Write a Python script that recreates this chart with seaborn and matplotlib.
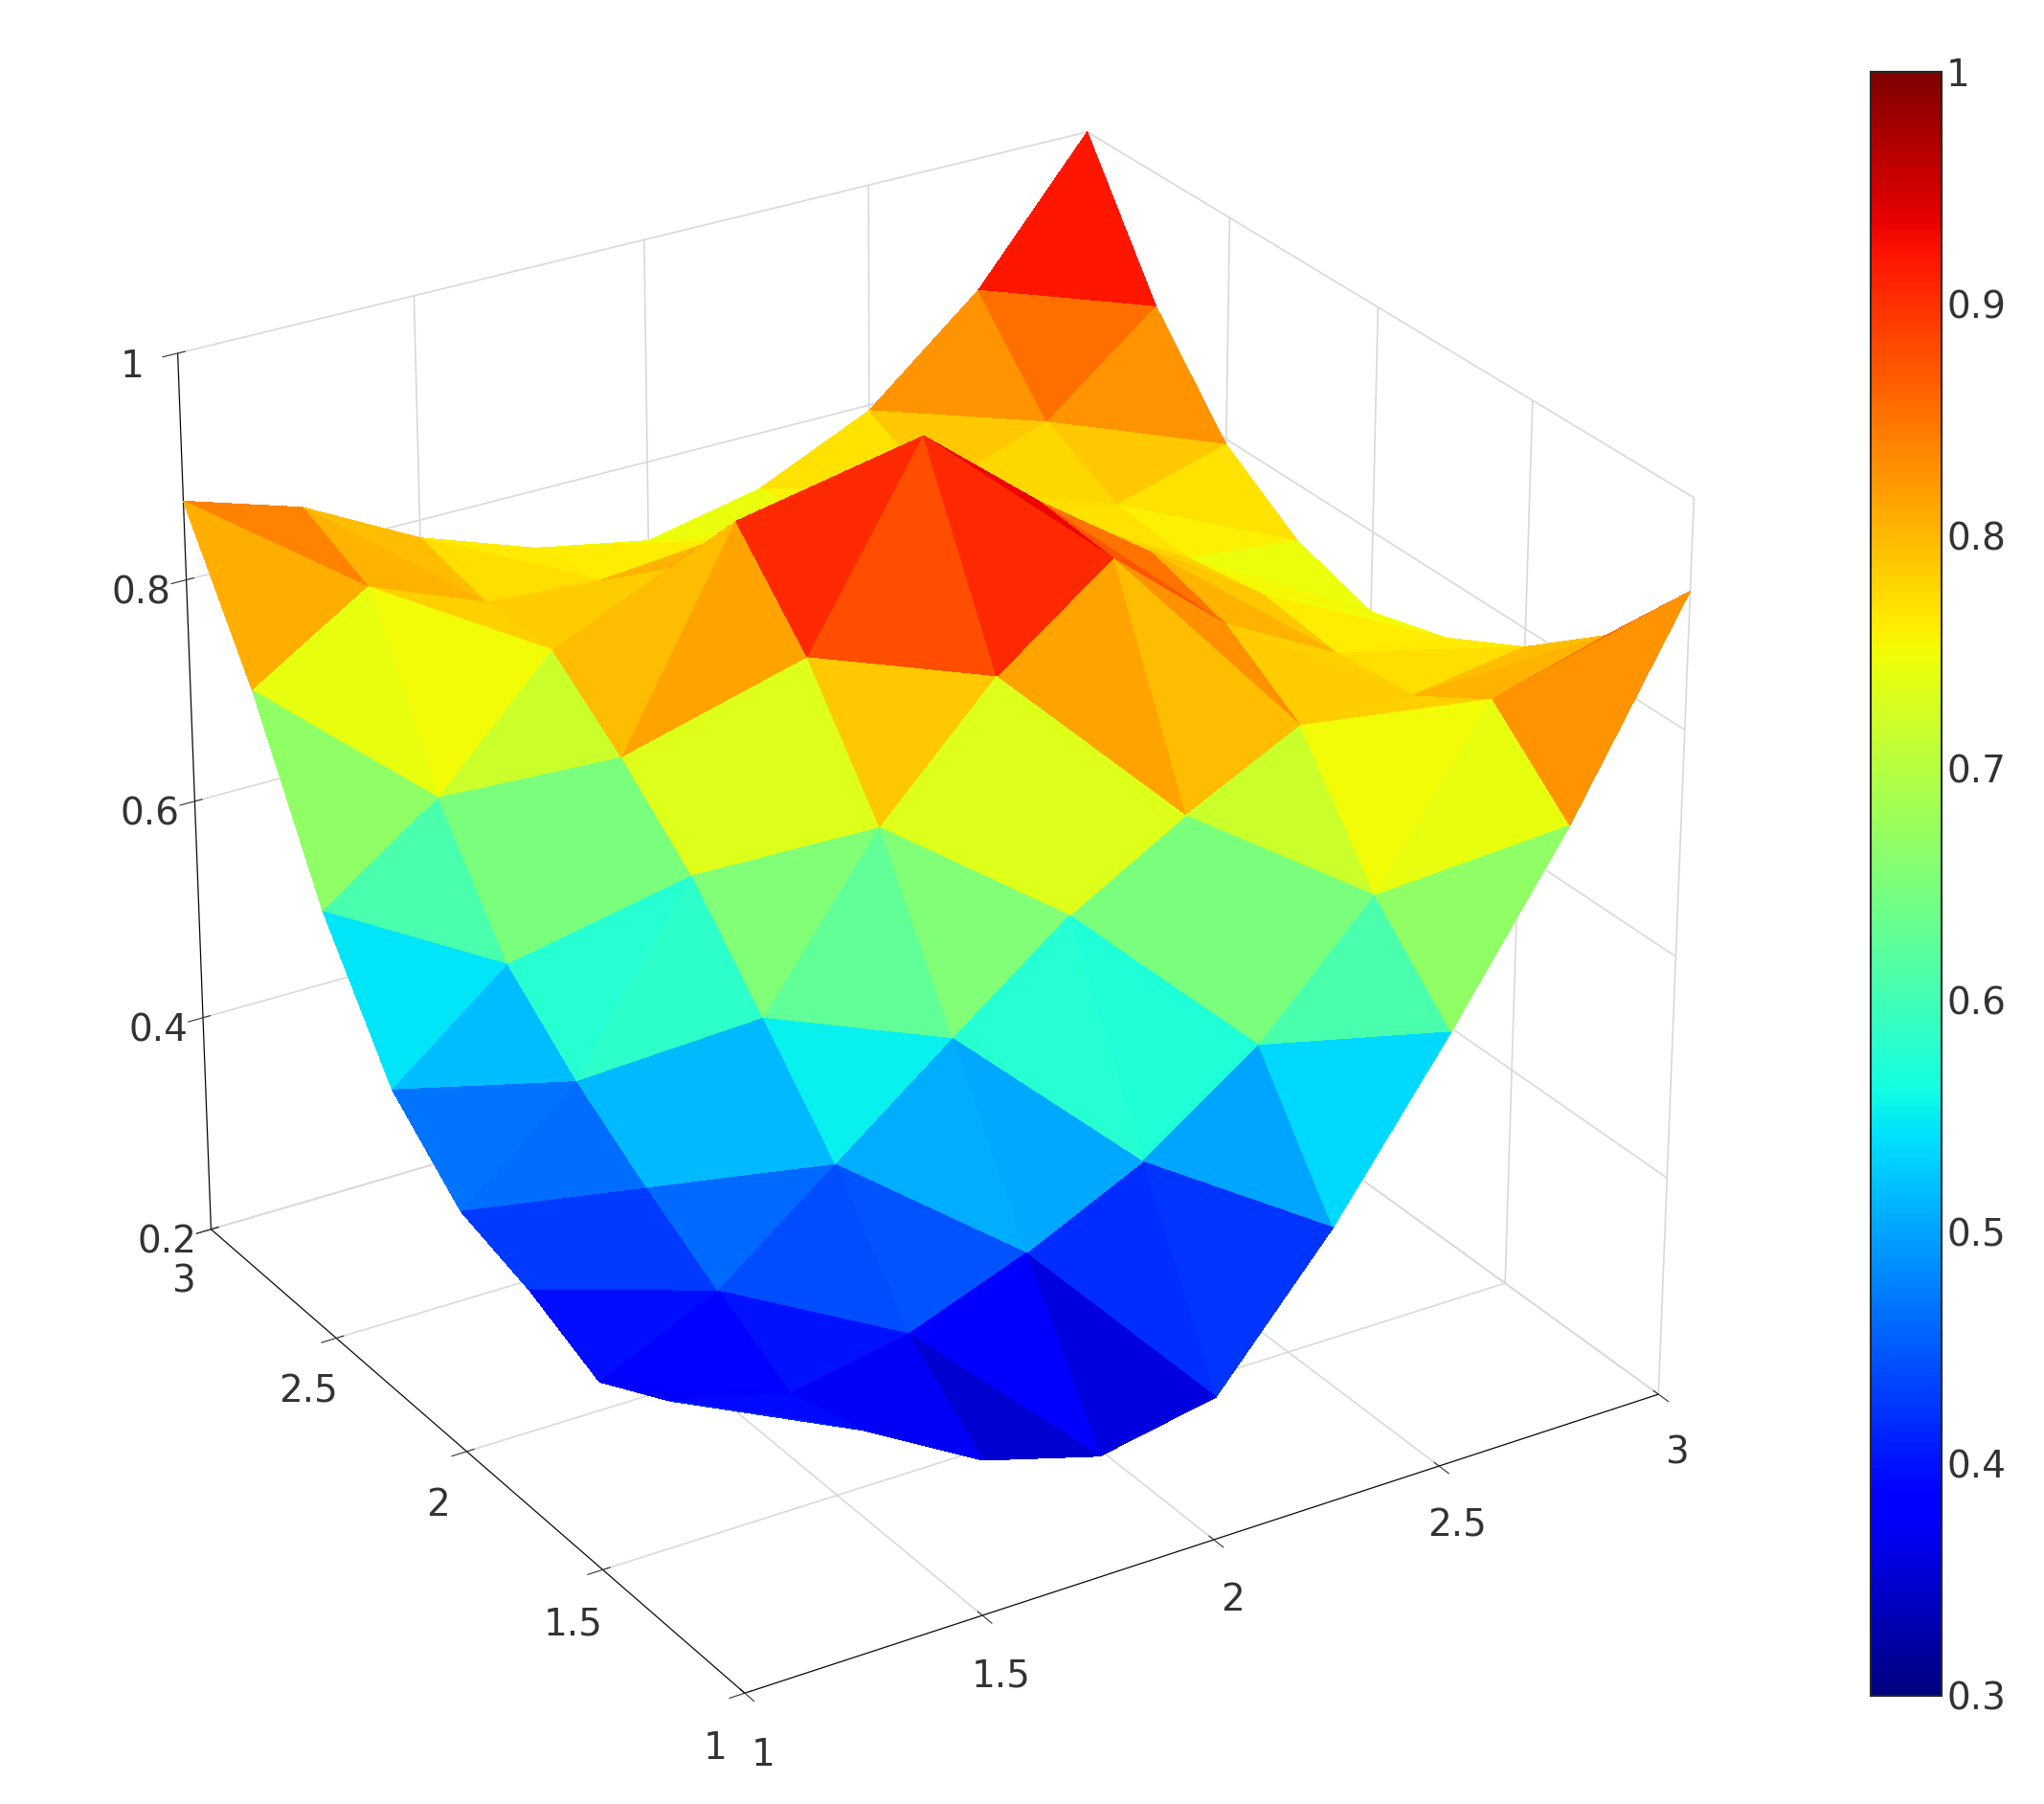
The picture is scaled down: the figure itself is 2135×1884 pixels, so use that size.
import numpy as np
import matplotlib
matplotlib.use("Agg")
import matplotlib.pyplot as plt
import matplotlib.tri as mtri
import seaborn as sns

sns.set_style("white")
plt.rcParams['font.family'] = ['DejaVu Sans']

x_vals = [1.0, 1.25, 1.5, 1.75, 2.0, 2.25, 2.5, 2.75, 3.0]
y_vals = [1.0, 1.25, 1.5, 1.75, 2.0, 2.25, 2.5, 2.75, 3.0]
z_rows = [
    [.45, .40, .34, .31, .33, .45, .593, .745, .92],
    [.406, .38, .40, .44, .49, .563, .666, .81, .838],
    [.37, .419, .50, .581, .66, .719, .77, .769, .784],
    [.40, .46, .581, .72, .824, .90, .815, .762, .748],
    [.42, .506, .66, .824, .99, .907, .835, .771, .728],
    [.48, .563, .719, .90, .907, .88, .818, .76, .749],
    [.593, .666, .77, .815, .835, .818, .78, .766, .795],
    [.745, .81, .769, .762, .771, .76, .766, .80, .88],
    [.87, .838, .784, .748, .728, .749, .795, .88, 1.0],
]
xy_ticks = [1, 1.5, 2, 2.5, 3]
xy_labels = ["1", "1.5", "2", "2.5", "3"]
z_ticks = [0.2, 0.4, 0.6, 0.8, 1.0]
z_labels = ["0.2", "0.4", "0.6", "0.8", "1"]
cb_ticks = [0.3, 0.4, 0.5, 0.6, 0.7, 0.8, 0.9, 1.0]
cb_labels = ["0.3", "0.4", "0.5", "0.6", "0.7", "0.8", "0.9", "1"]

X, Y = np.meshgrid(x_vals, y_vals)
Z = np.array(z_rows)
nx, ny = len(x_vals), len(y_vals)
tris = []
for j in range(ny - 1):
    for i in range(nx - 1):
        a = j * nx + i
        b = a + 1
        c = a + nx
        d = c + 1
        tris.append([a, b, c])
        tris.append([b, d, c])
tri = mtri.Triangulation(X.ravel(), Y.ravel(), triangles=tris)

fig = plt.figure(figsize=(21.35, 18.84), dpi=100)
ax = fig.add_axes([0.0, -0.04, 0.88, 1.08], projection='3d')
surf = ax.plot_trisurf(tri, Z.ravel(), cmap='jet', vmin=0.3, vmax=1.0,
                       linewidth=0, antialiased=False, shade=False)
ax.view_init(elev=27, azim=-122)
ax.set_box_aspect((4, 4, 3.7), zoom=0.98)
ax.set_xlim(1, 3); ax.set_ylim(1, 3); ax.set_zlim(0.2, 1.0)
ax.set_xticks(xy_ticks); ax.set_xticklabels(xy_labels)
ax.set_yticks(xy_ticks); ax.set_yticklabels(xy_labels)
ax.set_zticks(z_ticks); ax.set_zticklabels(z_labels)
for a in (ax.xaxis, ax.yaxis, ax.zaxis):
    a.set_pane_color((1, 1, 1, 0))
    a.pane.set_edgecolor((0.85, 0.85, 0.85))
    a._axinfo["grid"]["color"] = (0.85, 0.85, 0.85, 1)
    a._axinfo["grid"]["linewidth"] = 1.2
    a.line.set_color("black")
ax.tick_params(labelsize=28, colors="#333333", pad=14)

cax = fig.add_axes([0.915, 0.06, 0.035, 0.9])
cb = fig.colorbar(surf, cax=cax, ticks=cb_ticks)
cb.ax.set_yticklabels(cb_labels)
cb.ax.tick_params(labelsize=28, colors="#333333", direction="in", length=10)
cb.outline.set_linewidth(1.5)

fig.savefig("out.png", dpi=100)
